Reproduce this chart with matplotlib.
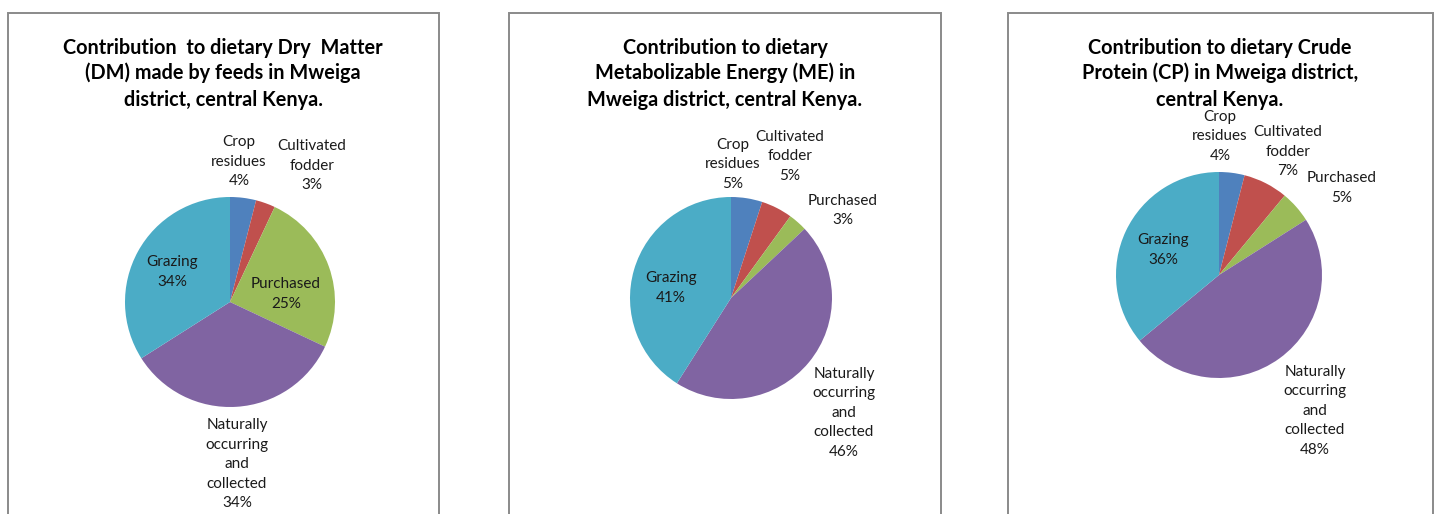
import matplotlib
matplotlib.use("Agg")
import matplotlib.pyplot as plt
from matplotlib.patches import Rectangle

W, H, DPI = 1438, 514, 100

# Feed categories (line breaks as shown in the data labels)
categories = ["Crop\nresidues", "Cultivated\nfodder", "Purchased",
              "Naturally\noccurring\nand\ncollected", "Grazing"]

# Percentage contribution of each feed category
dm_share = [4, 3, 25, 34, 34]   # dry matter
me_share = [5, 5, 3, 46, 41]    # metabolizable energy
cp_share = [4, 7, 5, 48, 36]    # crude protein

titles = [
    ["Contribution  to dietary Dry  Matter", "(DM) made by feeds in Mweiga",
     "district, central Kenya."],
    ["Contribution to dietary", "Metabolizable Energy (ME) in",
     "Mweiga district, central Kenya."],
    ["Contribution to dietary Crude", "Protein (CP) in Mweiga district,",
     "central Kenya."],
]

colors = ["#4F81BD", "#C0504D", "#9BBB59", "#8064A2", "#4BACC6"]

# Layout in pixels: panel box (left, right), pie centre + radius,
# title centre x, label anchors (centre x, first-line y)
panels = [
    dict(values=dm_share, box=(8, 439), centre=(230, 302), r=105, tx=223,
         labels=[(239, 142), (312, 146), (286, 284), (237, 425), (172, 262)]),
    dict(values=me_share, box=(509, 941), centre=(731, 298), r=101, tx=725,
         labels=[(733, 145), (790, 137), (843, 201), (844, 374), (671, 278)]),
    dict(values=cp_share, box=(1008, 1433), centre=(1219, 275), r=103, tx=1220,
         labels=[(1220, 117), (1288, 132), (1342, 178), (1315, 372), (1163, 240)]),
]

title_rows = [48, 73, 100]
label_step = 19.5

fig = plt.figure(figsize=(W / DPI, H / DPI), dpi=DPI)
fig.patch.set_facecolor("white")


def fx(x):
    return x / W


def fy(y):
    return 1 - y / H


for p, title in zip(panels, titles):
    left, right = p["box"]
    fig.patches.append(Rectangle((fx(left), fy(H + 20)), (right - left) / W,
                                 (H + 20 - 13) / H, transform=fig.transFigure,
                                 facecolor="none", edgecolor="#8a8a8a",
                                 linewidth=1.4, zorder=0))

    for row_y, line in zip(title_rows, title):
        fig.text(fx(p["tx"]), fy(row_y), line, ha="center", va="center",
                 fontsize=14.3, fontweight="bold", family="Lato", color="black")

    cx, cy = p["centre"]
    r = p["r"]
    ax = fig.add_axes([fx(cx - r), fy(cy + r), 2 * r / W, 2 * r / H])
    ax.pie(p["values"], colors=colors, startangle=90, counterclock=False,
           radius=1, wedgeprops=dict(linewidth=0))
    ax.set_xlim(-1, 1)
    ax.set_ylim(-1, 1)
    ax.axis("off")

    for name, val, (lx, ly) in zip(categories, p["values"], p["labels"]):
        lines = name.split("\n") + [f"{val}%"]
        for i, line in enumerate(lines):
            fig.text(fx(lx), fy(ly + i * label_step), line, ha="center",
                     va="center", fontsize=11, family="Lato", color="#1a1a1a")

fig.savefig("out.png", dpi=DPI)
